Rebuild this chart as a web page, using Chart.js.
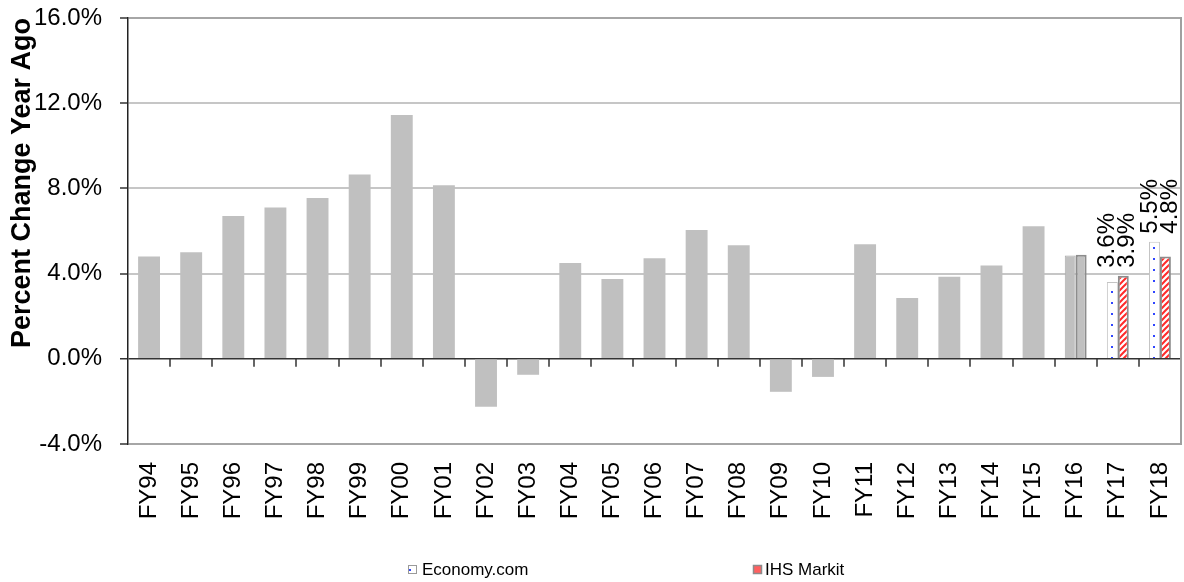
<!DOCTYPE html>
<html>
<head>
<meta charset="utf-8">
<script src="https://cdn.jsdelivr.net/npm/chart.js@4"></script>
<style>
  html, body { margin: 0; padding: 0; background: #fff; }
  #caixa { width: 1184px; height: 582px; position: relative; }
</style>
</head>
<body>
<div id="caixa"><canvas id="grafico"></canvas></div>
<script>
// dados
const categorias = ["FY94", "FY95", "FY96", "FY97", "FY98", "FY99", "FY00", "FY01", "FY02", "FY03",
  "FY04", "FY05", "FY06", "FY07", "FY08", "FY09", "FY10", "FY11", "FY12", "FY13",
  "FY14", "FY15", "FY16", "FY17", "FY18"];
const historico = [4.8, 5.0, 6.7, 7.1, 7.55, 8.65, 11.45, 8.15, -2.25, -0.75,
  4.5, 3.75, 4.72, 6.05, 5.33, -1.55, -0.85, 5.38, 2.86, 3.85,
  4.38, 6.22, null, null, null];
const economyCom = [null, null, null, null, null, null, null, null, null, null,
  null, null, null, null, null, null, null, null, null, null,
  null, null, 4.85, 3.6, 5.5];
const ihsMarkit = [null, null, null, null, null, null, null, null, null, null,
  null, null, null, null, null, null, null, null, null, null,
  null, null, 4.88, 3.9, 4.8];
const anosRotulados = ["FY17", "FY18"];
const ticksY = [-4, 0, 4, 8, 12, 16];

const FONTE = '"Liberation Sans", Arial, sans-serif';
Chart.defaults.font.family = FONTE;
Chart.defaults.color = "#000";

// padrões de preenchimento
function padraoPontos() {
  const c = document.createElement("canvas");
  c.width = 7; c.height = 11;
  const g = c.getContext("2d");
  g.fillStyle = "#fff"; g.fillRect(0, 0, 7, 11);
  g.fillStyle = "#2f45ff"; g.fillRect(5, 5, 2, 2);
  return g.createPattern(c, "repeat");
}
function padraoListras() {
  const s = 6;
  const c = document.createElement("canvas");
  c.width = s; c.height = s;
  const g = c.getContext("2d");
  g.fillStyle = "#fff"; g.fillRect(0, 0, s, s);
  g.strokeStyle = "#ff2a2a"; g.lineWidth = 2;
  g.beginPath();
  g.moveTo(0, s); g.lineTo(s, 0);
  g.moveTo(-1, 1); g.lineTo(1, -1);
  g.moveTo(s - 1, s + 1); g.lineTo(s + 1, s - 1);
  g.stroke();
  return g.createPattern(c, "repeat");
}
const pontos = padraoPontos();
const listras = padraoListras();

const iFY16 = categorias.indexOf("FY16");
const corEcon = categorias.map((c, i) => i === iFY16 ? "#c0c0c0" : pontos);
const bordaEcon = categorias.map((c, i) => i === iFY16 ? "#a8a8a8" : "#c4c4c4");
const corIhs = categorias.map((c, i) => i === iFY16 ? "#c0c0c0" : listras);

// tracinhos no zero, borda direita, rótulos e legenda
const extras = {
  id: "extras",
  afterDraw(chart) {
    const { ctx, chartArea: a, scales: { x, y } } = chart;
    const y0 = y.getPixelForValue(0);
    const passo = x.getPixelForValue(1) - x.getPixelForValue(0);
    ctx.save();
    ctx.strokeStyle = "#333"; ctx.lineWidth = 1.5;
    ctx.beginPath();
    for (let i = 1; i < categorias.length; i++) {
      const px = Math.round(x.getPixelForValue(i) - passo / 2);
      ctx.moveTo(px, y0); ctx.lineTo(px, y0 + 8);
    }
    ctx.stroke();

    ctx.strokeStyle = "#a0a0a0"; ctx.lineWidth = 2;
    ctx.beginPath();
    ctx.moveTo(a.right, a.top - 1); ctx.lineTo(a.right, a.bottom + 1);
    ctx.stroke();

    ctx.fillStyle = "#000";
    ctx.font = "24px " + FONTE;
    ctx.textAlign = "left"; ctx.textBaseline = "middle";
    anosRotulados.forEach(ano => {
      const i = categorias.indexOf(ano);
      const topo = y.getPixelForValue(Math.max(economyCom[i], ihsMarkit[i]));
      ctx.save();
      ctx.translate(x.getPixelForValue(i), topo - 8);
      ctx.rotate(-Math.PI / 2);
      ctx.fillText(economyCom[i].toFixed(1) + "%", 0, -10);
      ctx.fillText(ihsMarkit[i].toFixed(1) + "%", 0, 10);
      ctx.restore();
    });

    // legenda
    const ly = 570;
    ctx.font = "17px " + FONTE;
    ctx.fillStyle = "#fff"; ctx.fillRect(408, ly - 5, 9, 9);
    ctx.fillStyle = "#2f45ff"; ctx.fillRect(409, ly - 1, 2, 2);
    ctx.strokeStyle = "#9a9a9a"; ctx.lineWidth = 1;
    ctx.strokeRect(408.5, ly - 4.5, 8, 8);
    ctx.fillStyle = "#000"; ctx.fillText("Economy.com", 422, ly);

    ctx.fillStyle = "#ff6060"; ctx.fillRect(754, ly - 4, 7, 7);
    ctx.strokeStyle = "#8c8c8c"; ctx.lineWidth = 1.5;
    ctx.strokeRect(753.5, ly - 4.5, 8, 8);
    ctx.fillStyle = "#000"; ctx.fillText("IHS Markit", 765, ly);
    ctx.restore();
  }
};

new Chart(document.getElementById("grafico"), {
  type: "bar",
  data: {
    labels: categorias,
    datasets: [
      {
        label: "Histórico",
        data: historico,
        backgroundColor: "#c0c0c0",
        borderWidth: 0
      },
      {
        label: "Economy.com",
        data: economyCom,
        backgroundColor: corEcon,
        borderColor: bordaEcon,
        borderWidth: 1
      },
      {
        label: "IHS Markit",
        data: ihsMarkit,
        backgroundColor: corIhs,
        borderColor: "#8c8c8c",
        borderWidth: 2
      }
    ]
  },
  options: {
    responsive: true,
    maintainAspectRatio: false,
    animation: false,
    datasets: { bar: { skipNull: true, categoryPercentage: 0.52, barPercentage: 1.0 } },
    layout: { padding: { left: 0, right: 3, top: 18, bottom: 40 } },
    plugins: { legend: { display: false }, tooltip: { enabled: false } },
    scales: {
      x: {
        grid: { display: false, drawTicks: false },
        border: { display: false },
        ticks: { autoSkip: false, minRotation: 90, maxRotation: 90, padding: 18, font: { size: 24 } },
        afterFit: s => { s.height = 98; s.paddingLeft = 0; s.paddingRight = 0; }
      },
      y: {
        min: -4, max: 16,
        afterBuildTicks: s => { s.ticks = ticksY.map(v => ({ value: v })); },
        afterFit: s => { s.width = 128; s.paddingTop = 0; s.paddingBottom = 0; },
        grid: {
          color: c => c.tick.value === 0 ? "#333" : (c.tick.value === 16 || c.tick.value === -4 ? "#a6a6a6" : "#c6c6c6"),
          lineWidth: c => c.tick.value === 0 ? 1.5 : 2,
          tickColor: "#333",
          tickWidth: 1.5,
          tickLength: 8
        },
        border: { color: "#222", width: 1.5 },
        ticks: { padding: 18, font: { size: 24 }, callback: v => v.toFixed(1) + "%" },
        title: {
          display: true,
          text: "Percent Change Year Ago",
          align: "end",
          font: { size: 27, weight: "bold" },
          padding: { top: 6, bottom: 0 }
        }
      }
    }
  },
  plugins: [extras]
});
</script>
</body>
</html>
